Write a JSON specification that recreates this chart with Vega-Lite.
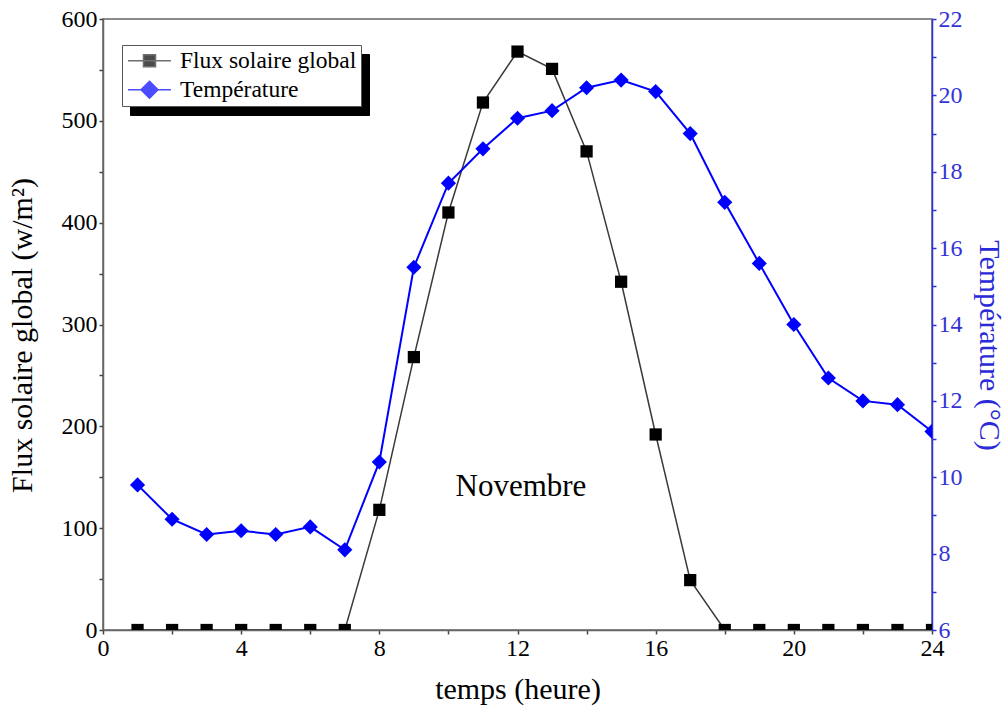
{
  "$schema": "https://vega.github.io/schema/vega-lite/v6.json",
  "width": 829,
  "height": 611,
  "autosize": {"type": "none"},
  "padding": {"left": 103, "top": 19, "right": 76, "bottom": 86},
  "background": "white",
  "config": {
    "font": "Liberation Serif",
    "view": {"stroke": "#666666", "strokeWidth": 1.5},
    "axis": {"grid": false, "labelFlush": false, "labelOverlap": false, "titleFontWeight": "normal", "labelFont": "Liberation Serif", "titleFont": "Liberation Serif"}
  },
  "data": {
    "values": [
      {"h": 1, "flux": 0, "temp": 9.8},
      {"h": 2, "flux": 0, "temp": 8.9},
      {"h": 3, "flux": 0, "temp": 8.5},
      {"h": 4, "flux": 0, "temp": 8.6},
      {"h": 5, "flux": 0, "temp": 8.5},
      {"h": 6, "flux": 0, "temp": 8.7},
      {"h": 7, "flux": 0, "temp": 8.1},
      {"h": 8, "flux": 118, "temp": 10.4},
      {"h": 9, "flux": 268, "temp": 15.5},
      {"h": 10, "flux": 410, "temp": 17.7},
      {"h": 11, "flux": 518, "temp": 18.6},
      {"h": 12, "flux": 568, "temp": 19.4},
      {"h": 13, "flux": 551, "temp": 19.6},
      {"h": 14, "flux": 470, "temp": 20.2},
      {"h": 15, "flux": 342, "temp": 20.4},
      {"h": 16, "flux": 192, "temp": 20.1},
      {"h": 17, "flux": 49, "temp": 19.0},
      {"h": 18, "flux": 0, "temp": 17.2},
      {"h": 19, "flux": 0, "temp": 15.6},
      {"h": 20, "flux": 0, "temp": 14.0},
      {"h": 21, "flux": 0, "temp": 12.6},
      {"h": 22, "flux": 0, "temp": 12.0},
      {"h": 23, "flux": 0, "temp": 11.9},
      {"h": 24, "flux": 0, "temp": 11.2}
    ]
  },
  "encoding": {
    "x": {
      "field": "h",
      "type": "quantitative",
      "scale": {"domain": [0, 24], "nice": false},
      "axis": {
        "title": "temps (heure)",
        "values": [0, 2, 4, 6, 8, 10, 12, 14, 16, 18, 20, 22, 24],
        "labelExpr": "datum.value % 4 === 0 ? datum.label : ''",
        "labelFontSize": 24,
        "labelColor": "black",
        "labelPadding": 2,
        "domainColor": "#666666",
        "domainWidth": 1.5,
        "tickColor": "#444444",
        "tickWidth": 1.5,
        "tickSize": 4,
        "titleFontSize": 30,
        "titleColor": "black",
        "titlePadding": 14,
        "encode": {
          "ticks": {
            "update": {
              "y": {"signal": "datum.value % 4 === 0 ? -4 : -2"},
              "y2": {"signal": "datum.value % 4 === 0 ? 4 : 2"}
            }
          }
        }
      }
    }
  },
  "layer": [
    {
      "encoding": {
        "y": {
          "field": "flux",
          "type": "quantitative",
          "scale": {"domain": [0, 600], "nice": false},
          "axis": {
            "orient": "left",
            "title": "Flux solaire global (w/m²)",
            "values": [0, 50, 100, 150, 200, 250, 300, 350, 400, 450, 500, 550, 600],
            "labelExpr": "datum.value % 100 === 0 ? datum.label : ''",
            "labelFontSize": 24,
            "labelColor": "black",
            "labelPadding": 2,
            "domainColor": "#666666",
            "domainWidth": 1.5,
            "tickColor": "#444444",
            "tickWidth": 1.5,
            "tickSize": 4,
            "titleFontSize": 30,
            "titleColor": "black",
            "titlePadding": 24,
            "titleY": 316,
            "encode": {
              "ticks": {
                "update": {
                  "x": {"signal": "datum.value % 100 === 0 ? 4 : 2"},
                  "x2": {"signal": "datum.value % 100 === 0 ? -4 : -2"}
                }
              }
            }
          }
        }
      },
      "layer": [
        {
          "mark": {"type": "line", "stroke": "#3a3a3a", "strokeWidth": 1.5, "clip": true}
        },
        {
          "mark": {"type": "point", "shape": "square", "filled": true, "size": 150, "clip": true},
          "encoding": {
            "color": {
              "datum": "Flux solaire global",
              "type": "nominal",
              "scale": {"domain": ["Flux solaire global", "Température"], "range": ["#000000", "#0000ff"]},
              "legend": {
                "title": null,
                "orient": "none",
                "legendX": 19,
                "legendY": 26,
                "zindex": 2,
                "fillColor": "white",
                "strokeColor": "#555555",
                "padding": 4,
                "rowPadding": 4,
                "labelOffset": 30.5,
                "labelFontSize": 23.5,
                "labelFont": "Liberation Serif",
                "labelColor": "black",
                "labelLimit": 400,
                "symbolSize": 400,
                "symbolStrokeWidth": 1.5,
                "symbolOpacity": 1,
                "symbolType": {"expr": "datum.value === 'Flux solaire global' ? 'M-0.97,0H3.32M0.575,-0.6H1.775V0.6H0.575Z' : 'M-0.97,0H3.32M1.175,-0.85L2.025,0L1.175,0.85L0.325,0Z'"},
                "symbolStrokeColor": {"expr": "datum.value === 'Flux solaire global' ? '#333333' : '#0000ff'"}
              }
            },
            "opacity": {
              "datum": "f",
              "type": "ordinal",
              "scale": {"domain": ["f", "t"], "range": [1, 1]},
              "legend": {
                "title": null,
                "orient": "none",
                "legendX": 27,
                "legendY": 35,
                "zindex": 1,
                "fillColor": "black",
                "strokeColor": "black",
                "padding": 4,
                "rowPadding": 4,
                "labelOffset": 30.5,
                "labelFontSize": 23.5,
                "labelLimit": 400,
                "symbolSize": 400,
                "symbolStrokeWidth": 1,
                "symbolOpacity": 1,
                "symbolFillColor": "black",
                "symbolStrokeColor": "black",
                "labelExpr": "''",
                "symbolType": "M-0.97,-0.8H21.7V0.8H-0.97Z"
              }
            }
          }
        },
        {
          "transform": [{"filter": "datum.h === 12"}],
          "mark": {"type": "text", "fontSize": 31, "font": "Liberation Serif", "color": "black", "align": "center", "baseline": "middle", "text": "Novembre"},
          "encoding": {
            "x": {"datum": 12.1, "type": "quantitative"},
            "y": {"datum": 140, "type": "quantitative"}
          }
        }
      ]
    },
    {
      "encoding": {
        "y": {
          "field": "temp",
          "type": "quantitative",
          "scale": {"domain": [6, 22], "nice": false, "zero": false},
          "axis": {
            "orient": "right",
            "title": "Température (°C)",
            "values": [6, 7, 8, 9, 10, 11, 12, 13, 14, 15, 16, 17, 18, 19, 20, 21, 22],
            "labelExpr": "datum.value % 2 === 0 ? datum.label : ''",
            "labelFontSize": 24,
            "labelColor": "#3434d6",
            "labelPadding": 2,
            "domainColor": "#3030e0",
            "domainWidth": 1.5,
            "tickColor": "#3030e0",
            "tickWidth": 1.5,
            "tickSize": 4,
            "titleFontSize": 30,
            "titleColor": "#2a2ad6",
            "titlePadding": 11,
            "titleY": 326,
            "encode": {
              "ticks": {
                "update": {
                  "x": {"signal": "datum.value % 2 === 0 ? -4 : -2"},
                  "x2": {"signal": "datum.value % 2 === 0 ? 4 : 2"}
                }
              }
            }
          }
        }
      },
      "layer": [
        {
          "mark": {"type": "line", "stroke": "#0000ff", "strokeWidth": 2, "clip": true}
        },
        {
          "mark": {"type": "point", "shape": "diamond", "filled": true, "size": 230, "clip": true},
          "encoding": {
            "color": {"datum": "Température", "type": "nominal"},
            "opacity": {"datum": "t", "type": "ordinal"}
          }
        }
      ]
    }
  ],
  "resolve": {"scale": {"y": "independent"}}
}
